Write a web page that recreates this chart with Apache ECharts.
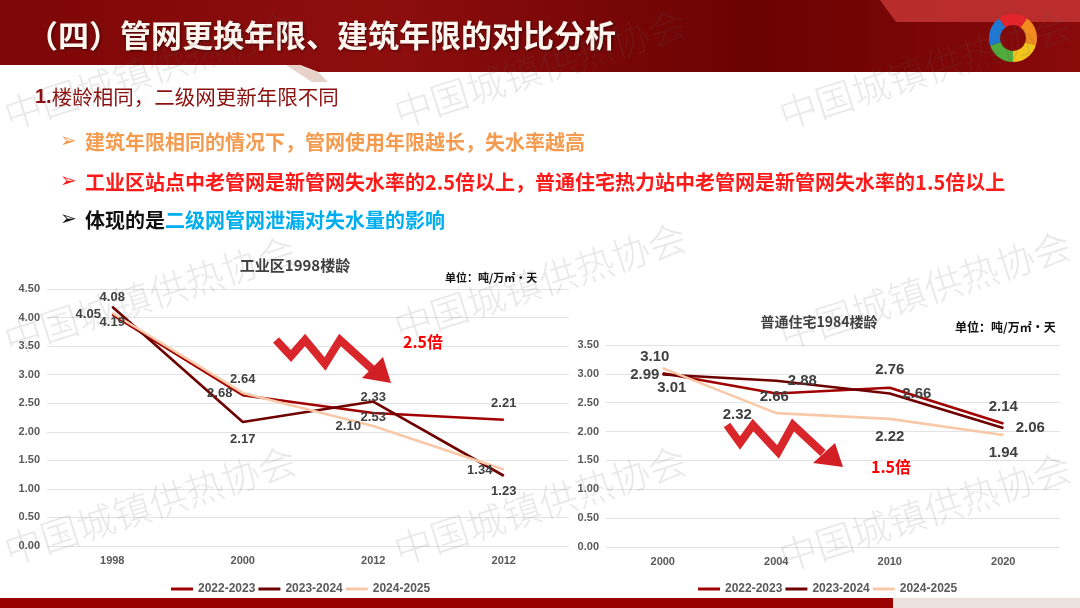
<!DOCTYPE html>
<html><head><meta charset="utf-8">
<script src="https://cdn.jsdelivr.net/npm/echarts@6/dist/echarts.min.js"></script>
<style>html,body{margin:0;padding:0;background:#fff}#c{width:1080px;height:608px}</style>
</head><body><div id="c"></div>
<script>
// ---- data ----
const leftCats = ['1998', '2000', '2012', '2012'];
const rightCats = ['2000', '2004', '2010', '2020'];
const seriesNames = ['2022-2023', '2023-2024', '2024-2025'];
const left2223 = [4.05, 2.64, 2.33, 2.21];
const left2324 = [4.19, 2.17, 2.53, 1.23];
const left2425 = [4.08, 2.68, 2.10, 1.34];
const right2223 = [3.01, 2.66, 2.76, 2.14];
const right2324 = [2.99, 2.88, 2.66, 2.06];
const right2425 = [3.10, 2.32, 2.22, 1.94];
const leftTitle = '工业区1998楼龄';
const rightTitle = '普通住宅1984楼龄';
const unitText = '单位：吨/万㎡•天';

// ---- styles / label placement ----
const colors = ['#a00000', '#6e0000', '#f8c8a8'];
const offL = [
  [[-24, 0], [0, -16], [0, -16], [0, -16]],
  [[0, 16], [0, 17], [0, 16], [0, 16]],
  [[0, -16], [-23, 0], [-25, 0], [-24, 1]]
];
const offR = [
  [[9, 15], [-2, 3], [0, -18], [0, -17]],
  [[-18, 0], [26, 0], [27, 0], [27, 0]],
  [[-8, -11], [-39, 2], [0, 18], [0, 18]]
];
const NUM = '"Liberation Sans", Arial, "Noto Sans CJK SC", sans-serif';
const CJK = '"Noto Sans CJK SC", "Liberation Sans", sans-serif';

function mk(name, vals, offs, idx, ci, fs) {
  return {
    name: name, type: 'line', xAxisIndex: idx, yAxisIndex: idx,
    symbol: 'circle', symbolSize: 1, showSymbol: true,
    lineStyle: { color: colors[ci], width: 2.6 },
    itemStyle: { color: colors[ci] },
    data: vals.map((v, i) => ({ value: v, label: { offset: offs[i] } })),
    label: {
      show: true, position: 'inside', color: '#404040', fontWeight: 'bold',
      fontFamily: NUM, fontSize: fs, formatter: p => p.value.toFixed(2)
    },
    emphasis: { disabled: true }, animation: false
  };
}

const axisLbl = { color: '#595959', fontWeight: 'bold', fontFamily: NUM, fontSize: 11 };

// watermarks
const wm = [];
[[150, 70], [540, 68], [925, 70], [150, 295], [540, 282], [925, 290], [150, 505], [540, 505], [925, 512]].forEach(p => {
  wm.push({ type: 'text', x: p[0], y: p[1], rotation: 0.31, z: 200, silent: true,
    style: { text: '中国城镇供热协会', fontSize: 38, fontWeight: 300, fontFamily: CJK, fill: 'rgba(90,90,90,0.14)', align: 'center', verticalAlign: 'middle' } });
});

function sector(a0, a1, col) {
  return { type: 'sector', z: 20, shape: { cx: 1013, cy: 38, r0: 13, r: 24, startAngle: a0 * Math.PI / 180, endAngle: a1 * Math.PI / 180, clockwise: true }, style: { fill: col } };
}

const graphic = [
  // header banner
  { type: 'polygon', z: 1, shape: { points: [[0, 0], [1080, 0], [1080, 72], [318, 72], [300, 65], [0, 65]] },
    style: { fill: new echarts.graphic.LinearGradient(0, 0, 1, 0, [
      { offset: 0, color: '#7e0606' }, { offset: 0.35, color: '#8e0e0e' }, { offset: 0.7, color: '#6a0202' }, { offset: 1, color: '#8a0a0a' }]) } },
  { type: 'polygon', z: 2, shape: { points: [[880, 0], [1080, 0], [1080, 22], [896, 22]] }, style: { fill: '#c43434', opacity: 0.85 } },
  { type: 'polygon', z: 2, shape: { points: [[286, 65], [300, 65], [318, 72], [328, 82], [312, 82]] }, style: { fill: '#e6d2c8' } },
  { type: 'text', z: 10, x: 27, y: 35, style: { text: '（四）管网更换年限、建筑年限的对比分析', fontSize: 31, fontWeight: 'bold', fontFamily: CJK, fill: '#fff6f0', verticalAlign: 'middle', textShadowColor: 'rgba(0,0,0,0.5)', textShadowBlur: 3, textShadowOffsetX: 1, textShadowOffsetY: 1 } },
  sector(-126, -54, '#e3242b'), sector(-54, 18, '#f28c1e'), sector(18, 90, '#f2c51c'), sector(90, 162, '#4eab3c'), sector(162, 234, '#1f78d1'),
  // subtitle
  { type: 'text', z: 10, x: 35, y: 97, style: { text: '{b|1.}{n|楼龄相同，二级网更新年限不同}', verticalAlign: 'middle',
    rich: { b: { fontSize: 20, fontWeight: 'bold', fontFamily: NUM, fill: '#8b0f0f' }, n: { fontSize: 20.5, fontFamily: CJK, fill: '#8b0f0f' } } } },
  // bullets
  { type: 'text', z: 10, x: 60, y: 142, style: { text: '➢', fontSize: 20, fontFamily: '"DejaVu Sans"', fill: '#f59b4f', verticalAlign: 'middle' } },
  { type: 'text', z: 10, x: 85, y: 142, style: { text: '建筑年限相同的情况下，管网使用年限越长，失水率越高', fontSize: 20, fontWeight: 'bold', fontFamily: CJK, fill: '#f59b4f', verticalAlign: 'middle' } },
  { type: 'text', z: 10, x: 60, y: 182, style: { text: '➢', fontSize: 20, fontFamily: '"DejaVu Sans"', fill: '#ff1a1a', verticalAlign: 'middle' } },
  { type: 'text', z: 10, x: 85, y: 182, style: { text: '工业区站点中老管网是新管网失水率的2.5倍以上，普通住宅热力站中老管网是新管网失水率的1.5倍以上', fontSize: 20, fontWeight: 'bold', fontFamily: CJK, fill: '#ff1a1a', verticalAlign: 'middle' } },
  { type: 'text', z: 10, x: 60, y: 220, style: { text: '➢', fontSize: 20, fontFamily: '"DejaVu Sans"', fill: '#111', verticalAlign: 'middle' } },
  { type: 'text', z: 10, x: 85, y: 220, style: { text: '{k|体现的是}{c|二级网管网泄漏对失水量的影响}', verticalAlign: 'middle',
    rich: { k: { fontSize: 20, fontWeight: 'bold', fontFamily: CJK, fill: '#111' }, c: { fontSize: 20, fontWeight: 'bold', fontFamily: CJK, fill: '#00aeef' } } } },
  // chart titles
  { type: 'text', z: 10, x: 295, y: 265, style: { text: leftTitle, fontSize: 15, fontWeight: 'bold', fontFamily: CJK, fill: '#404040', align: 'center', verticalAlign: 'middle' } },
  { type: 'text', z: 10, x: 445, y: 278, style: { text: unitText, fontSize: 11, fontWeight: 'bold', fontFamily: CJK, fill: '#111', verticalAlign: 'middle' } },
  { type: 'text', z: 10, x: 819, y: 322, style: { text: rightTitle, fontSize: 14, fontWeight: 'bold', fontFamily: CJK, fill: '#404040', align: 'center', verticalAlign: 'middle' } },
  { type: 'text', z: 10, x: 955, y: 327, style: { text: unitText, fontSize: 12, fontWeight: 'bold', fontFamily: CJK, fill: '#111', verticalAlign: 'middle' } },
  // arrows
  { type: 'polyline', z: 30, shape: { points: [[276, 340], [291, 356], [305, 340], [325, 364], [340, 340], [372, 369]] }, style: { stroke: '#d9262b', lineWidth: 8, lineJoin: 'miter', fill: null } },
  { type: 'polygon', z: 30, shape: { points: [[362, 378], [383, 357], [391, 383]] }, style: { fill: '#d21f25' } },
  { type: 'text', z: 30, x: 423, y: 342, style: { text: '2.5倍', fontSize: 16, fontWeight: 'bold', fontFamily: CJK, fill: '#ff0000', align: 'center', verticalAlign: 'middle' } },
  { type: 'polyline', z: 30, shape: { points: [[727, 425], [740, 443], [753, 425], [778, 452], [793, 425], [823, 453]] }, style: { stroke: '#d9262b', lineWidth: 8, lineJoin: 'miter', fill: null } },
  { type: 'polygon', z: 30, shape: { points: [[813, 463], [835, 443], [843, 467]] }, style: { fill: '#d21f25' } },
  { type: 'text', z: 30, x: 891, y: 467, style: { text: '1.5倍', fontSize: 16, fontWeight: 'bold', fontFamily: CJK, fill: '#ff0000', align: 'center', verticalAlign: 'middle' } },
  // bottom bar
  { type: 'rect', z: 5, shape: { x: 0, y: 598, width: 893, height: 10 }, style: { fill: '#9a0000' } },
  { type: 'rect', z: 5, shape: { x: 893, y: 598, width: 187, height: 10 }, style: { fill: '#ebe2de' } }
].concat(wm);

const chart = echarts.init(document.getElementById('c'), null, { renderer: 'canvas' });
chart.setOption({
  backgroundColor: '#ffffff',
  animation: false,
  graphic: graphic,
  grid: [
    { left: 47, right: 511, top: 289, bottom: 62 },
    { left: 606, right: 20, top: 345, bottom: 61 }
  ],
  xAxis: [
    { type: 'category', gridIndex: 0, data: leftCats, boundaryGap: true, axisLine: { show: false }, axisTick: { show: false }, axisLabel: Object.assign({ margin: 9 }, axisLbl) },
    { type: 'category', gridIndex: 1, data: rightCats, boundaryGap: true, axisLine: { show: false }, axisTick: { show: false }, axisLabel: Object.assign({ margin: 9 }, axisLbl) }
  ],
  yAxis: [
    { type: 'value', gridIndex: 0, min: 0, max: 4.5, interval: 0.5, splitLine: { lineStyle: { color: '#e2e2e2' } }, axisLabel: Object.assign({ margin: 7, formatter: v => v.toFixed(2) }, axisLbl) },
    { type: 'value', gridIndex: 1, min: 0, max: 3.5, interval: 0.5, splitLine: { lineStyle: { color: '#e2e2e2' } }, axisLabel: Object.assign({ margin: 7, formatter: v => v.toFixed(2) }, axisLbl) }
  ],
  legend: [
    { left: 166, top: 578, icon: 'rect', itemWidth: 22, itemHeight: 3, itemGap: 3, data: seriesNames, selectedMode: false,
      textStyle: { color: '#595959', fontWeight: 'bold', fontFamily: NUM, fontSize: 12 } },
    { left: 693, top: 578, icon: 'rect', itemWidth: 22, itemHeight: 3, itemGap: 3, data: seriesNames, selectedMode: false,
      textStyle: { color: '#595959', fontWeight: 'bold', fontFamily: NUM, fontSize: 12 } }
  ],
  series: [
    mk(seriesNames[0], left2223, offL[0], 0, 0, 13),
    mk(seriesNames[1], left2324, offL[1], 0, 1, 13),
    mk(seriesNames[2], left2425, offL[2], 0, 2, 13),
    mk(seriesNames[0], right2223, offR[0], 1, 0, 15),
    mk(seriesNames[1], right2324, offR[1], 1, 1, 15),
    mk(seriesNames[2], right2425, offR[2], 1, 2, 15)
  ]
});
</script></body></html>
